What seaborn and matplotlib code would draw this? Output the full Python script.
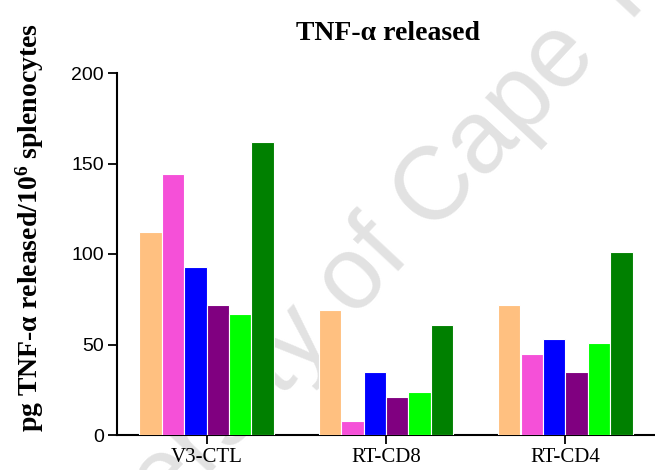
import matplotlib
matplotlib.use("Agg")
import matplotlib.pyplot as plt
import seaborn as sns
import pandas as pd

# Cell populations on the x axis
groups = ["V3-CTL", "RT-CD8", "RT-CD4"]

# TNF-alpha release (pg / 10^6 splenocytes), one list per condition
cond_1 = [112, 69, 72]
cond_2 = [144, 8, 45]
cond_3 = [93, 35, 53]
cond_4 = [72, 21, 35]
cond_5 = [67, 24, 51]
cond_6 = [162, 61, 101]

conditions = ["1", "2", "3", "4", "5", "6"]
bar_colors = ["#FFC080", "#F550D8", "#0000FF", "#800080", "#00FF00", "#008000"]

y_ticks = [0, 50, 100, 150, 200]

series = [cond_1, cond_2, cond_3, cond_4, cond_5, cond_6]
df = pd.DataFrame(
    [(g, c, v) for c, vals in zip(conditions, series) for g, v in zip(groups, vals)],
    columns=["group", "condition", "value"],
)

sns.set_theme(style="white")
plt.rcParams["font.family"] = ["Liberation Serif", "DejaVu Serif"]
plt.rcParams["mathtext.fontset"] = "custom"
plt.rcParams["mathtext.rm"] = "Liberation Serif:bold"
plt.rcParams["mathtext.bf"] = "Liberation Serif:bold"
plt.rcParams["mathtext.it"] = "Liberation Serif:bold"
for key in ["text.color", "axes.labelcolor", "xtick.color", "ytick.color"]:
    plt.rcParams[key] = "black"

fig = plt.figure(figsize=(6.55, 4.7), dpi=100)
ax = fig.add_axes([117 / 655, 35 / 470, 1 - 117 / 655, 362 / 470])
ax.patch.set_alpha(0)

# faint diagonal repository watermark behind the bars
fig.text(385 / 655, 1 - 248 / 470, "University of Cape Town",
         family="Liberation Sans", fontsize=74, color="#E2E2E2",
         rotation=47, ha="center", va="center", rotation_mode="anchor",
         zorder=-5)

sns.barplot(data=df, x="group", y="value", hue="condition",
            palette=bar_colors, width=0.75, gap=0, saturation=1,
            edgecolor="white", linewidth=0.8, legend=False, ax=ax, zorder=3)

ax.set_xlim(-0.5, 2.5)
ax.set_ylim(0, 200)
ax.set_yticks(y_ticks)
ax.set_yticklabels([str(t) for t in y_ticks], family="Liberation Sans", fontsize=14)
ax.set_xticks(range(len(groups)))
ax.set_xticklabels(groups, family="Liberation Serif", fontsize=15)

for side in ["top", "right"]:
    ax.spines[side].set_visible(False)
for side in ["left", "bottom"]:
    ax.spines[side].set_color("black")
    ax.spines[side].set_linewidth(1.5)

ax.tick_params(axis="both", which="major", direction="out", length=6.5,
               width=1.3, color="black", labelcolor="black",
               bottom=True, left=True, pad=3)
ax.set_xlabel("")
ax.set_ylabel("pg TNF-α released/10$^{6}$ splenocytes",
              fontsize=20, fontweight="bold", family="Liberation Serif",
              color="black")
ax.yaxis.set_label_coords(-0.132, 0.572)

fig.text(388 / 655, 1 - 34 / 470, "TNF-α released", ha="center", va="center",
         fontsize=20, fontweight="bold", family="Liberation Serif", color="black")

fig.savefig("out.png", dpi=100)
